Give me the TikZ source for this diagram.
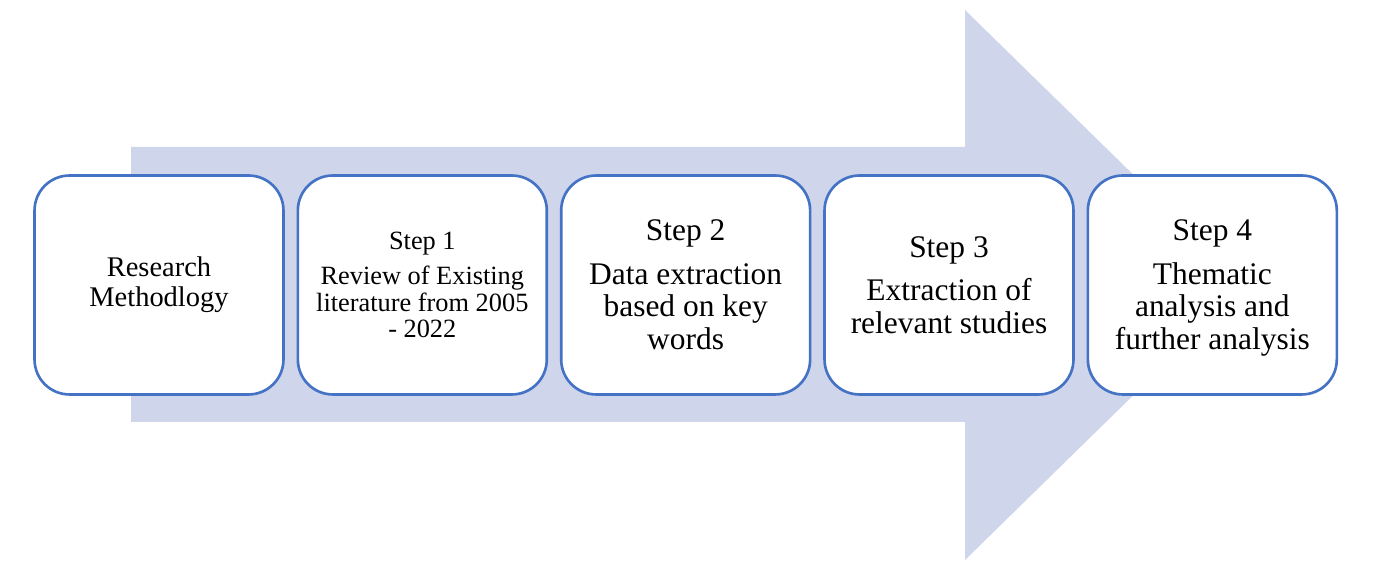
\documentclass[tikz,border=0pt]{standalone}
\usepackage{fontspec}
\setmainfont{Liberation Serif}
\usetikzlibrary{positioning}

\definecolor{arrowblue}{HTML}{CFD5EA}
\definecolor{boxblue}{HTML}{4472C4}

\tikzset{
  stepbox/.style={draw=boxblue, line width=1.5pt, fill=white, rounded corners=0.7cm,
    minimum width=4.98cm, minimum height=4.38cm, align=center, inner sep=2pt},
  smalltext/.style={font=\fontsize{15}{15.1}\selectfont},
  midtext/.style={font=\fontsize{16.2}{17}\selectfont},
  bigtext/.style={font=\fontsize{17.9}{18.7}\selectfont}
}

\begin{document}
\begin{tikzpicture}[x=0.02cm, y=0.02cm, node distance=0.235cm]

\useasboundingbox (0,0) rectangle (1386,570);

% big arrow behind the steps
\fill[arrowblue] (131,148) -- (965,148) -- (965,10) -- (1246,285) -- (965,560) -- (965,423) -- (131,423) -- cycle;

\node[stepbox, midtext] (method) at (159,285) {Research\\Methodlogy};
\node[stepbox, smalltext, right=of method] (step1) {Step 1\\[5pt]Review of Existing\\literature from 2005\\- 2022};
\node[stepbox, bigtext, right=of step1] (step2) {Step 2\\[6pt]Data extraction\\based on key\\words};
\node[stepbox, bigtext, right=of step2] (step3) {Step 3\\[6pt]Extraction of\\relevant studies};
\node[stepbox, bigtext, right=of step3] (step4) {\rule{0pt}{15.6pt}Step 4\\[6pt]Thematic\\analysis and\\further analysis};

\end{tikzpicture}
\end{document}
